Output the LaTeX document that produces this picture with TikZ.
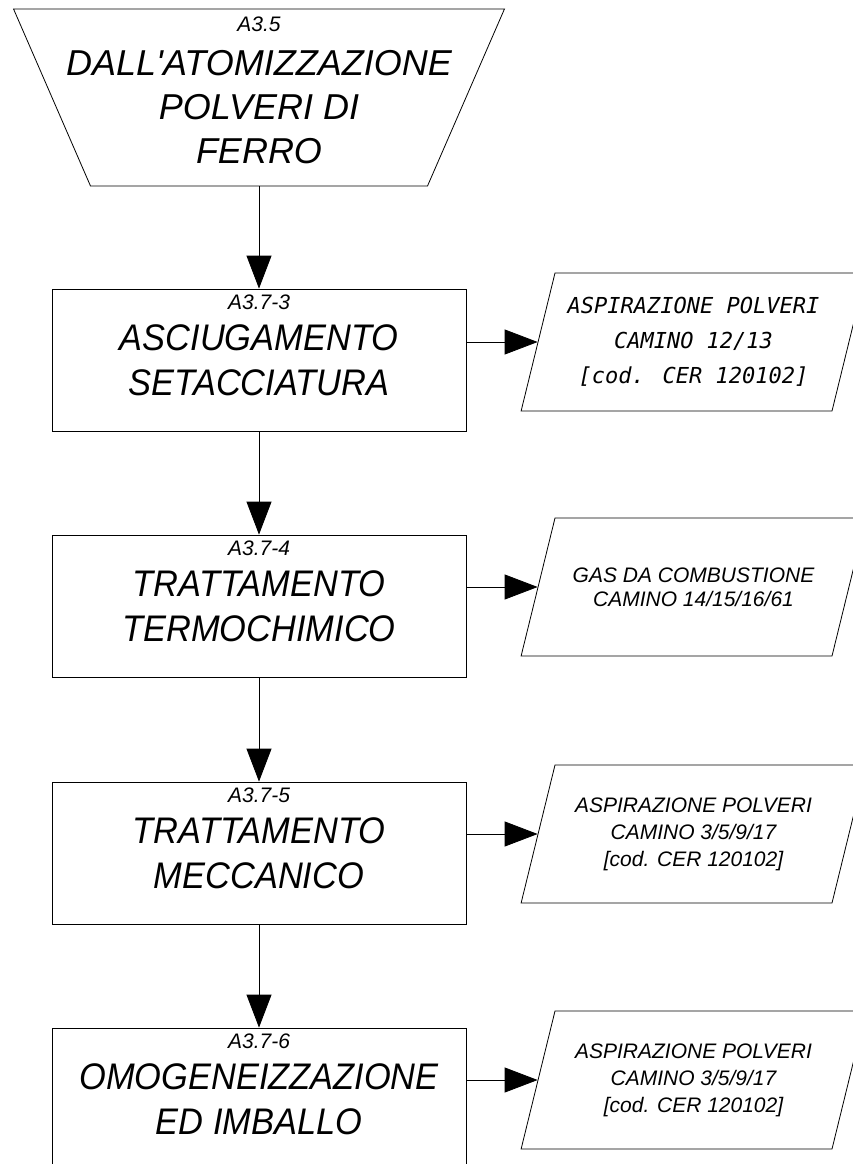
\documentclass[tikz,border=0pt]{standalone}
\usepackage{fontspec}
\setmainfont{Liberation Sans}
\newfontfamily\cadfont{DejaVu Sans Mono}
\newfontfamily\condfont[FakeStretch=0.93]{Liberation Sans}
\usetikzlibrary{shapes.geometric,arrows.meta}

\begin{document}
\begin{tikzpicture}[x=1pt,y=-1pt]
            \tikzstyle{proc box}=[rectangle,draw,line width=0.8pt,minimum width=414pt,minimum height=142pt,inner sep=0pt,align=center,font=\condfont\fontsize{37}{45}\selectfont\itshape]
            \tikzstyle{code lbl}=[inner sep=0pt,font=\fontsize{21}{25}\selectfont\itshape]
            \tikzstyle{in box}=[trapezium,draw,line width=0.8pt,shape border rotate=180,trapezium angle=66.5,inner xsep=168.5pt,inner ysep=88.5pt]
            \tikzstyle{out box}=[trapezium,draw,line width=0.8pt,trapezium left angle=76.2,trapezium right angle=103.8,inner xsep=138.5pt,inner ysep=69pt]
            \tikzstyle{out txt}=[inner sep=0pt,align=center,font=\fontsize{21}{27}\selectfont\itshape]
            \tikzstyle{flow}=[line width=0.8pt,-{Triangle[length=33pt,width=25pt]}]

            \useasboundingbox (0,0) rectangle (853,1164);

            \node(t0)[in box] at (259,97.5) {};
            \node(t0code)[code lbl,anchor=base] at (259,32) {A3.5};
            \node(t0txt)[inner sep=0pt,anchor=north,align=center,font=\fontsize{36}{44}\selectfont\itshape] at (259,50) {DALL\textquotesingle ATOMIZZAZIONE\\POLVERI DI\\FERRO};

            \node(b1)[proc box,label={[code lbl,anchor=base,yshift=-21pt]north:A3.7-3}] at (259,360) {ASCIUGAMENTO\\SETACCIATURA};
            \node(b2)[proc box,label={[code lbl,anchor=base,yshift=-21pt]north:A3.7-4}] at (259,606) {TRATTAMENTO\\TERMOCHIMICO};
            \node(b3)[proc box,label={[code lbl,anchor=base,yshift=-21pt]north:A3.7-5}] at (259,853) {TRATTAMENTO\\MECCANICO};
            \node(b4)[proc box,label={[code lbl,anchor=base,yshift=-21pt]north:A3.7-6}] at (259,1099) {OMOGENEIZZAZIONE\\ED IMBALLO};

            \node(p1)[out box] at (693.5,342) {};
            \node(p2)[out box] at (693.5,587) {};
            \node(p3)[out box] at (693.5,834) {};
            \node(p4)[out box] at (693.5,1080) {};
            \node(p1txt)[out txt,font=\cadfont\fontsize{22}{35}\selectfont\itshape] at (p1.center) {ASPIRAZIONE POLVERI\\CAMINO 12/13\\{[cod. CER 120102]}};
            \node(p2txt)[out txt,font=\fontsize{21}{24}\selectfont\itshape] at (p2.center) {GAS DA COMBUSTIONE\\CAMINO 14/15/16/61};
            \node(p3txt)[out txt] at (p3.center) {ASPIRAZIONE POLVERI\\CAMINO 3/5/9/17\\{[cod. CER 120102]}};
            \node(p4txt)[out txt] at (p4.center) {ASPIRAZIONE POLVERI\\CAMINO 3/5/9/17\\{[cod. CER 120102]}};

            \draw[flow] (t0) -- (b1);
            \draw[flow] (b1) -- (b2);
            \draw[flow] (b2) -- (b3);
            \draw[flow] (b3) -- (b4);

            \draw[flow] (b1.east |- p1.center) -- (p1);
            \draw[flow] (b2.east |- p2.center) -- (p2);
            \draw[flow] (b3.east |- p3.center) -- (p3);
            \draw[flow] (b4.east |- p4.center) -- (p4);
\end{tikzpicture}
\end{document}
